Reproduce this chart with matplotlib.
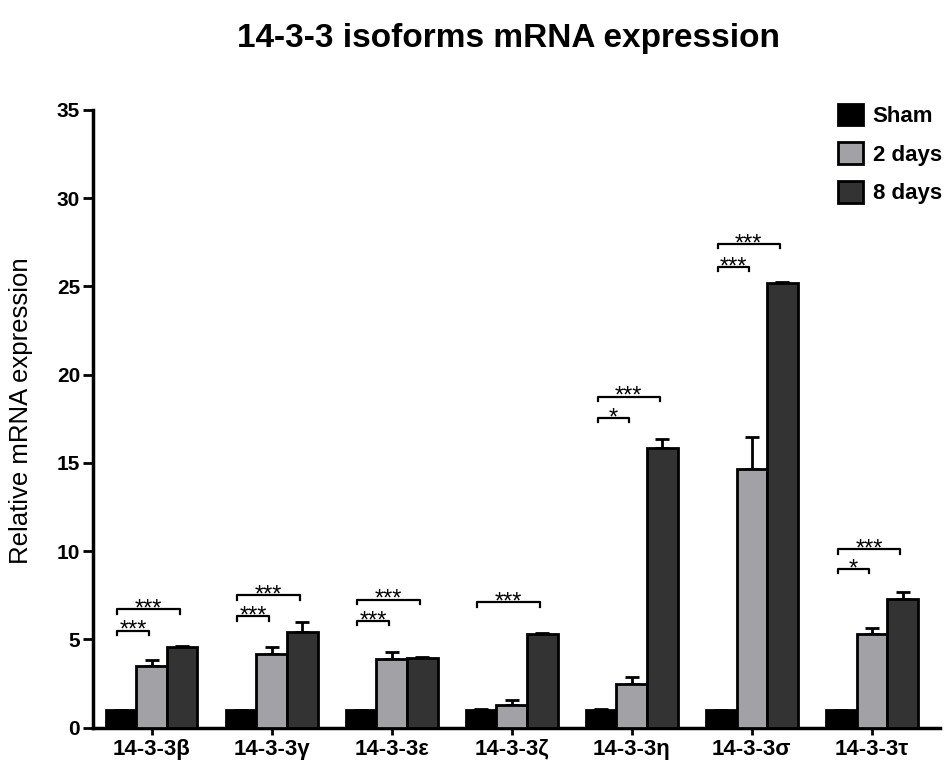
import numpy as np
import matplotlib.pyplot as plt

plt.rcParams['font.family'] = ['Liberation Sans', 'DejaVu Sans']

isoforms = ['14-3-3β', '14-3-3γ', '14-3-3ε', '14-3-3ζ', '14-3-3η', '14-3-3σ', '14-3-3τ']
groups = ['Sham', '2 days', '8 days']
sham = [1.0, 1.0, 1.0, 1.02, 1.02, 1.0, 1.0]
sham_se = [0.0, 0.0, 0.0, 0.02, 0.02, 0.0, 0.0]
day2 = [3.52, 4.2, 3.88, 1.27, 2.5, 14.65, 5.3]
day2_se = [0.3, 0.38, 0.42, 0.28, 0.4, 1.8, 0.32]
day8 = [4.55, 5.42, 3.94, 5.28, 15.85, 25.2, 7.3]
day8_se = [0.1, 0.55, 0.05, 0.06, 0.5, 0.05, 0.4]

# significance brackets: (isoform index, compared group, y level, label)
sig = [
    (0, 1, 5.5, '***'), (0, 2, 6.7, '***'),
    (1, 1, 6.3, '***'), (1, 2, 7.5, '***'),
    (2, 1, 6.05, '***'), (2, 2, 7.25, '***'),
    (3, 2, 7.1, '***'),
    (4, 1, 17.55, '*'), (4, 2, 18.75, '***'),
    (5, 1, 26.1, '***'), (5, 2, 27.4, '***'),
    (6, 1, 9.0, '*'), (6, 2, 10.1, '***'),
]

colors = ['#000000', '#a2a2a6', '#333333']

fig = plt.figure(figsize=(9.46, 7.62), dpi=100)
ax = fig.add_axes([0.098, 0.045, 0.896, 0.811])

x = np.arange(len(isoforms))
w = 0.255
offs = [-w, 0, w]
series = [(sham, sham_se), (day2, day2_se), (day8, day8_se)]
for i, (vals, se) in enumerate(series):
    ax.bar(x + offs[i], vals, width=w, color=colors[i], edgecolor='black',
           linewidth=2, label=groups[i], zorder=3)
    yerr = [np.zeros(len(se)), se]
    ax.errorbar(x + offs[i], vals, yerr=yerr, fmt='none', ecolor='black',
                elinewidth=2, capsize=5, capthick=2, zorder=2)

for idx, grp, yv, lab in sig:
    x0 = idx + offs[0] - 0.03
    x1 = idx + offs[grp] - 0.02
    tick = 0.25
    ax.plot([x0, x0, x1, x1], [yv - tick, yv, yv, yv - tick], color='black', lw=1.6, zorder=4)
    ax.annotate(lab, ((x0 + x1) / 2, yv), xytext=(0, -4.5), textcoords='offset points',
                ha='center', va='baseline', fontsize=17, zorder=4)

ax.set_xlim(-0.49, 6.57)
ax.set_ylim(0, 35)
ax.set_yticks(range(0, 36, 5))
ax.set_xticks(x)
ax.set_xticklabels(isoforms, fontsize=16, fontweight='bold')
ax.tick_params(axis='y', labelsize=15, width=2, length=7, pad=2)
for t in ax.get_yticklabels():
    t.set_fontweight('bold')
ax.tick_params(axis='x', width=2, length=5, pad=3)
for s in ['top', 'right']:
    ax.spines[s].set_visible(False)
for s in ['left', 'bottom']:
    ax.spines[s].set_linewidth(2.5)

ax.set_ylabel('Relative mRNA expression', fontsize=18.5)
ax.yaxis.set_label_coords(-0.071, 0.513)
fig.text(0.537, 0.95, '14-3-3 isoforms mRNA expression', ha='center', va='center',
         fontsize=24, fontweight='bold')

leg = ax.legend(loc='upper left', bbox_to_anchor=(0.886, 0.864), bbox_transform=fig.transFigure,
                frameon=False, borderpad=0, borderaxespad=0,
                prop={'weight': 'bold', 'size': 16}, handlelength=1.1, handleheight=1.1,
                handletextpad=0.45, labelspacing=0.7)

fig.savefig('out.png', dpi=100)
